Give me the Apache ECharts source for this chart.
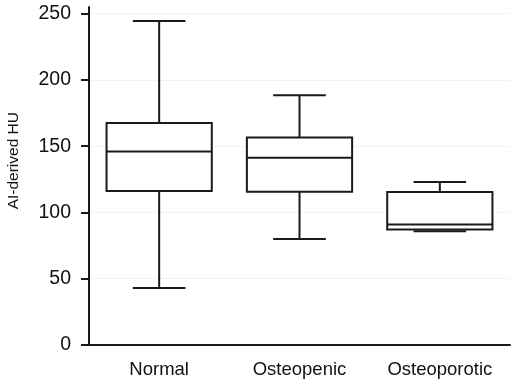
<!DOCTYPE html>
<html>
<head>
<meta charset="utf-8">
<script src="https://cdn.jsdelivr.net/npm/echarts@6/dist/echarts.min.js"></script>
<style>
html,body{margin:0;padding:0;background:#fff;}
#chart{width:514px;height:385px;}
</style>
</head>
<body>
<div id="chart"></div>
<script>
var categories = ['Normal', 'Osteopenic', 'Osteoporotic'];
var whiskerLow = [43, 80, 85.8];
var q1Values = [116.2, 115.7, 87.1];
var medianValues = [146, 141.3, 90.9];
var q3Values = [167.4, 156.6, 115.4];
var whiskerHigh = [244.5, 188.5, 123];
var yTickValues = [0, 50, 100, 150, 200, 250];
var yAxisTitle = 'AI-derived HU';

var data = categories.map(function (c, i) {
  return [i, whiskerLow[i], q1Values[i], medianValues[i], q3Values[i], whiskerHigh[i]];
});

var lineColor = '#1a1a1a';
var textColor = '#111';
var chart = echarts.init(document.getElementById('chart'), null, {renderer: 'canvas'});
chart.setOption({
  backgroundColor: '#fff',
  animation: false,
  grid: {left: 89, right: 4, top: 7, bottom: 40},
  xAxis: {
    type: 'category',
    data: categories,
    boundaryGap: true,
    axisLine: {lineStyle: {color: lineColor, width: 2}},
    axisTick: {alignWithLabel: true, length: 8, lineStyle: {color: lineColor, width: 2}},
    axisLabel: {color: textColor, fontSize: 18.5, fontFamily: 'Liberation Sans, Arial, sans-serif', margin: 15},
    splitLine: {show: false}
  },
  yAxis: {
    type: 'value',
    min: 0,
    max: 255,
    interval: 50,
    axisLine: {show: true, lineStyle: {color: lineColor, width: 2}},
    axisTick: {show: true, length: 8, lineStyle: {color: lineColor, width: 2}, customValues: yTickValues},
    axisLabel: {color: textColor, fontSize: 19.5, fontFamily: 'Liberation Sans, Arial, sans-serif', margin: 18, customValues: yTickValues},
    splitLine: {show: true, lineStyle: {color: '#f3f3f3', width: 1}}
  },
  graphic: [{
    type: 'text',
    left: 6,
    top: 112,
    rotation: Math.PI / 2,
    style: {
      text: yAxisTitle,
      fill: textColor,
      font: '15.5px "Liberation Sans", Arial, sans-serif'
    }
  }],
  series: [{
    type: 'custom',
    data: data,
    encode: {x: 0, y: [1, 2, 3, 4, 5]},
    renderItem: function (params, api) {
      var idx = api.value(0);
      var band = api.size([1, 0])[0];
      var bw = band * 0.75, cw = band * 0.375;
      var pLow = api.coord([idx, api.value(1)]);
      var pQ1 = api.coord([idx, api.value(2)]);
      var pMed = api.coord([idx, api.value(3)]);
      var pQ3 = api.coord([idx, api.value(4)]);
      var pHigh = api.coord([idx, api.value(5)]);
      var x = pLow[0];
      var st = {stroke: lineColor, lineWidth: 2, fill: null};
      function line(x1, y1, x2, y2) {
        return {type: 'line', shape: {x1: x1, y1: y1, x2: x2, y2: y2}, style: st};
      }
      return {
        type: 'group',
        children: [
          line(x, pHigh[1], x, pQ3[1]),
          line(x, pQ1[1], x, pLow[1]),
          line(x - cw / 2, pHigh[1], x + cw / 2, pHigh[1]),
          line(x - cw / 2, pLow[1], x + cw / 2, pLow[1]),
          {type: 'rect', shape: {x: x - bw / 2, y: pQ3[1], width: bw, height: pQ1[1] - pQ3[1]},
           style: {stroke: lineColor, lineWidth: 2, fill: '#fff'}},
          line(x - bw / 2, pMed[1], x + bw / 2, pMed[1])
        ]
      };
    }
  }]
});
</script>
</body>
</html>
